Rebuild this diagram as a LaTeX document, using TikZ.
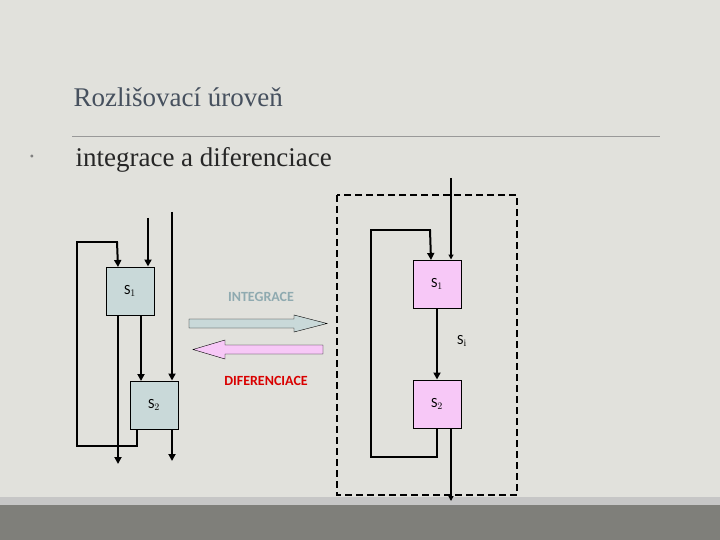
\documentclass[tikz,border=0pt]{standalone}
\usepackage{fontspec}
\setsansfont{Carlito}
\setmainfont{Liberation Serif}
\usetikzlibrary{arrows.meta}
\definecolor{bg}{HTML}{E1E1DC}
\definecolor{boxa}{HTML}{C9D9D9}
\definecolor{boxb}{HTML}{F7C8F7}
\definecolor{titc}{HTML}{46505E}
\definecolor{barc}{HTML}{7F7F7A}
\definecolor{intc}{HTML}{8FAAB0}
\tikzset{
  blk/.style={draw,line width=1pt,minimum width=48pt,minimum height=48pt,inner sep=0pt,font=\sffamily\fontsize{14}{14}\selectfont},
  thick arr/.style={line width=2pt,-{Triangle[length=7pt,width=7pt]}},
  thin arr/.style={line width=1.2pt,-{Triangle[length=5pt,width=5pt]}},
  fb/.style={line width=2pt},
  lbl/.style={font=\sffamily\bfseries\fontsize{14}{14}\selectfont}
}
\begin{document}
\begin{tikzpicture}[x=1pt,y=-1pt]
\fill[bg] (0,0) rectangle (720,540);
\fill[gray!45] (0,497) rectangle (720,505);
\fill[barc] (0,505) rectangle (720,540);
\node[anchor=west,text=titc,font=\fontsize{27}{27}\selectfont] (title) at (70,97) {Rozlišovací úroveň};
\draw[gray!80] (72,136) -- (660,136);
\node[text=gray,font=\fontsize{12}{12}\selectfont] (bul) at (32,158) {•};
\node[anchor=west,font=\fontsize{27}{27}\selectfont,text=black!85] (sub) at (72,160) {integrace a diferenciace};
% left
\node[blk,fill=boxa] (a1) at (130,291) {S$_1$};
\node[blk,fill=boxa] (a2) at (154,405) {S$_2$};
\coordinate (ain) at (148,218);
\coordinate (along) at (172,212);
\coordinate (aout1) at (118,464);
\coordinate (aout2) at (172,461);
\draw[thick arr] (ain) -- (ain|-a1.north);
\draw[thick arr] (along) -- (along|-a2.north);
\draw[thick arr] (141,315) -- (141,381);
\draw[thick arr] (a1.south-|aout1) -- (aout1);
\draw[thick arr] (a2.south-|aout2) -- (aout2);
\draw[fb] (137,429) -- (137,446) -- (77,446) -- (77,242) -- (118,242);
\draw[thick arr] (117,242) -- (118,267);
% block arrows
\draw[fill=boxa] (189,319) -- (294,319) -- (294,315) -- (327,323.5) -- (294,332) -- (294,328) -- (189,328) -- cycle;
\draw[fill=boxb] (323,345) -- (225,345) -- (225,340) -- (193,349.5) -- (225,359) -- (225,354) -- (323,354) -- cycle;
\node[lbl,text=intc] (ti) at (261,297) {INTEGRACE};
\node[lbl,text=red!85!black] (td) at (266,381) {DIFERENCIACE};
% right
\draw[line width=1.5pt,dash pattern=on 7pt off 4pt] (337,195) rectangle (517,495);
\node[blk,fill=boxb] (b1) at (437,284) {S$_1$};
\node[blk,fill=boxb] (b2) at (437,404) {S$_2$};
\node[font=\sffamily\fontsize{14}{14}\selectfont] (si) at (462,341) {S$_\mathrm{i}$};
\coordinate (bin) at (451,178);
\coordinate (bout) at (451,501);
\draw[thin arr] (bin) -- (bin|-b1.north);
\draw[thin arr] (b2.south-|bout) -- (bout);
\draw[thick arr] (b1) -- (b2);
\draw[fb] (437,428) -- (437,457) -- (371,457) -- (371,230) -- (431,230);
\draw[thick arr] (430,230) -- (431,260);
\end{tikzpicture}
\end{document}
